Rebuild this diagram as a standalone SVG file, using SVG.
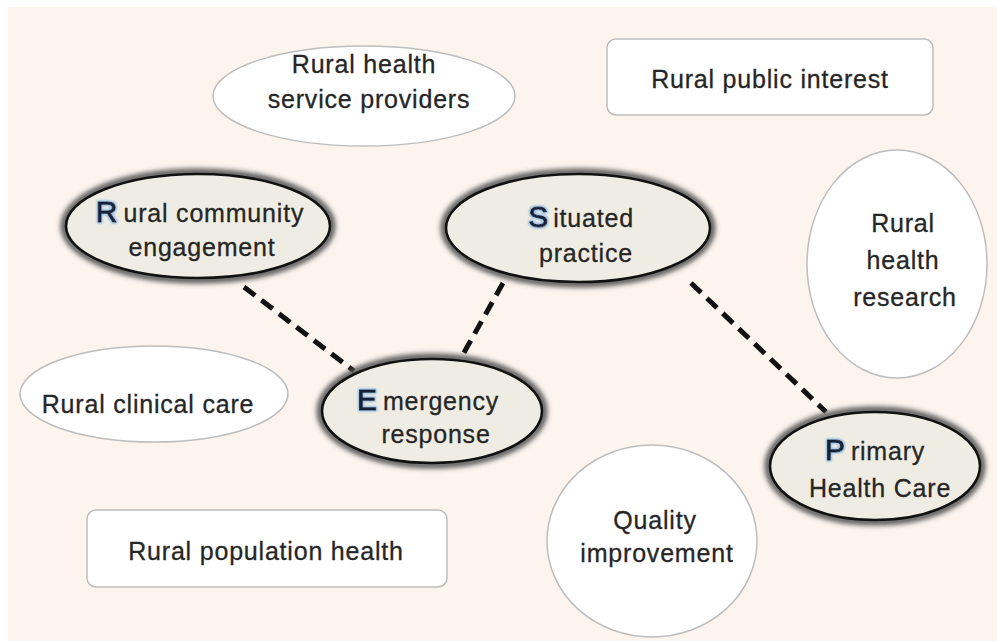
<svg xmlns="http://www.w3.org/2000/svg" width="997" height="641" viewBox="0 0 997 641">
<defs>
<filter id="glow" x="-20%" y="-30%" width="140%" height="160%"><feGaussianBlur stdDeviation="2.4"/></filter>
<filter id="lglow" x="-50%" y="-50%" width="200%" height="200%">
<feMorphology in="SourceAlpha" operator="dilate" radius="1.2" result="d"/>
<feGaussianBlur in="d" stdDeviation="1" result="b"/>
<feFlood flood-color="#8DB8E4"/>
<feComposite in2="b" operator="in" result="g"/>
<feMerge><feMergeNode in="g"/><feMergeNode in="SourceGraphic"/></feMerge>
</filter>
</defs>
<style>
text{font-family:"Liberation Sans",Arial,sans-serif;font-size:25px;fill:#262626;stroke:#262626;stroke-width:0.3px;letter-spacing:0.8px;text-anchor:middle}
.w{fill:#FFFFFF;stroke:#BDBDBD;stroke-width:1.5}
.halo{fill:none;stroke:#5A5A5A;stroke-width:7;filter:url(#glow)}
.key{fill:#EFEDE3;stroke:#111;stroke-width:2.6}
.cap{font-size:30px;fill:#1A2036;stroke:#1A2036;stroke-width:0.9px;filter:url(#lglow);letter-spacing:0}
.conn{fill:none;stroke:#111;stroke-width:5;stroke-dasharray:14 8}
</style>
<rect x="0" y="0" width="997" height="641" fill="#FFFFFF"/>
<rect x="8" y="7" width="989" height="634" fill="#FDF4EE"/>

<g id="connectors">
<line class="conn" x1="244" y1="287" x2="354" y2="371"/>
<line class="conn" x1="503" y1="283" x2="461" y2="358"/>
<line class="conn" x1="691" y1="283" x2="826" y2="412"/>
</g>

<g id="rural-health-service-providers">
<ellipse class="w" cx="364" cy="96" rx="151" ry="50"/>
<text x="364" y="73">Rural health</text>
<text x="369" y="108">service providers</text>
</g>

<g id="rural-public-interest">
<rect class="w" x="607" y="39" width="326" height="76" rx="9"/>
<text x="770" y="88">Rural public interest</text>
</g>

<g id="rural-health-research">
<ellipse class="w" cx="897" cy="264" rx="90" ry="114"/>
<text x="903" y="232">Rural</text>
<text x="903" y="269">health</text>
<text x="905" y="306">research</text>
</g>

<g id="rural-clinical-care">
<ellipse class="w" cx="154" cy="394" rx="134" ry="48"/>
<text x="148" y="413">Rural clinical care</text>
</g>

<g id="rural-population-health">
<rect class="w" x="87" y="510" width="360" height="77" rx="9"/>
<text x="266" y="560">Rural population health</text>
</g>

<g id="quality-improvement">
<ellipse class="w" cx="652" cy="541" rx="105" ry="96"/>
<text x="655" y="529">Quality</text>
<text x="657" y="562">improvement</text>
</g>

<g id="rural-community-engagement">
<ellipse class="halo" cx="198" cy="226" rx="134" ry="54"/>
<ellipse class="key" cx="198" cy="226" rx="132" ry="52"/>
<text x="200" y="222"><tspan class="cap">R</tspan><tspan dx="6">ural community</tspan></text>
<text x="202" y="256">engagement</text>
</g>

<g id="situated-practice">
<ellipse class="halo" cx="578" cy="228" rx="134" ry="56"/>
<ellipse class="key" cx="578" cy="228" rx="132" ry="54"/>
<text x="581" y="227"><tspan class="cap">S</tspan><tspan dx="5">ituated</tspan></text>
<text x="586" y="262">practice</text>
</g>

<g id="emergency-response">
<ellipse class="halo" cx="432" cy="411" rx="112" ry="54"/>
<ellipse class="key" cx="432" cy="411" rx="110" ry="52"/>
<text x="428" y="410"><tspan class="cap">E</tspan><tspan dx="6">mergency</tspan></text>
<text x="436" y="443">response</text>
</g>

<g id="primary-health-care">
<ellipse class="halo" cx="875" cy="466" rx="107" ry="56"/>
<ellipse class="key" cx="875" cy="466" rx="105" ry="54"/>
<text x="875" y="460"><tspan class="cap">P</tspan><tspan dx="6">rimary</tspan></text>
<text x="880" y="497">Health Care</text>
</g>
</svg>
